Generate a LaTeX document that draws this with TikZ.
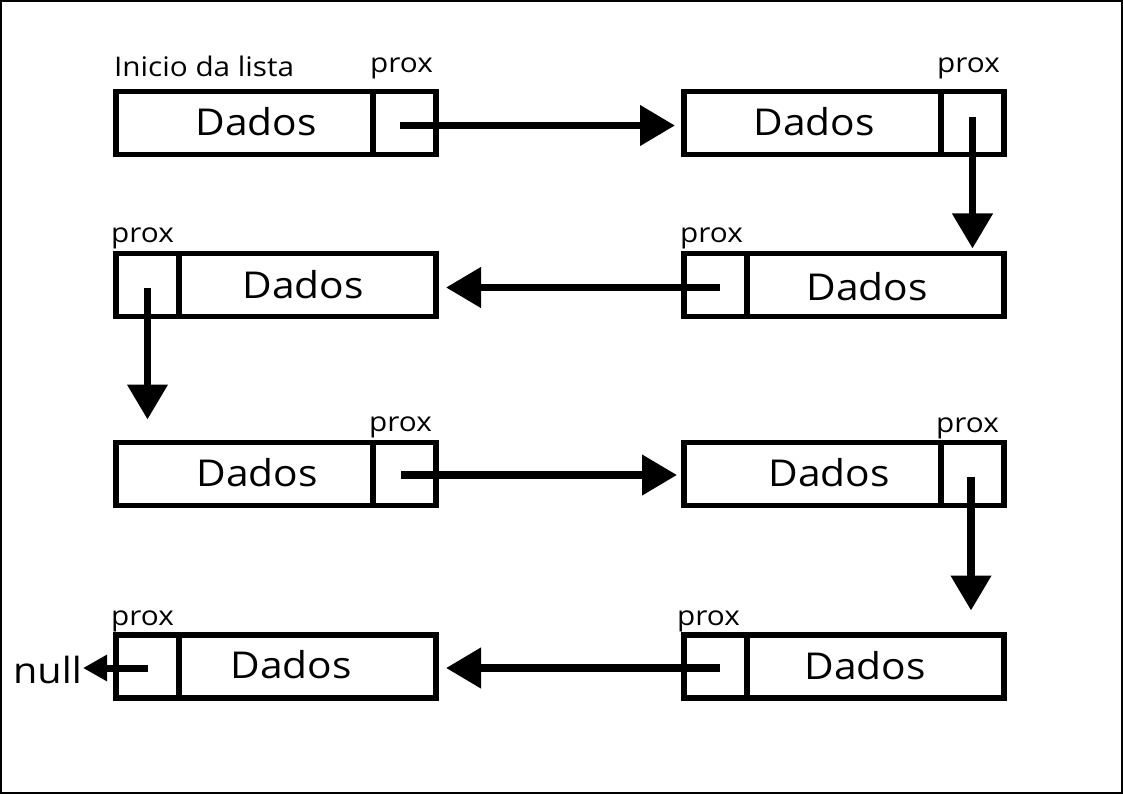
\documentclass[tikz,border=0pt]{standalone}
\usepackage{fontspec}
\setmainfont{Open Sans}
\newfontfamily\wfont[FakeStretch=1.1]{Open Sans}
\usetikzlibrary{arrows.meta}
\tikzset{
  cell/.style={draw, line width=5.5pt, minimum height=63pt, inner sep=0pt, outer sep=0pt},
  datacell/.style={cell, minimum width=257pt},
  ptrcell/.style={cell, minimum width=63pt},
  dados/.style={anchor=base, inner sep=0pt, font=\wfont\fontsize{37}{42}\selectfont},
  lbl/.style={anchor=base west, inner sep=0pt, font=\wfont\fontsize{27}{30}\selectfont},
  link/.style={line width=7.5pt, -{Triangle[length=35pt,width=39pt]}},
  nulllink/.style={line width=7pt, -{Triangle[length=24pt,width=25pt]}}
}
\begin{document}
\begin{tikzpicture}[x=1pt,y=-1pt]
\useasboundingbox (0,0) rectangle (1123,794);
\draw[line width=2pt] (1,1) rectangle (1122,793);
% row 1
\node[datacell, anchor=west] (d1) at (116,123) {};
\node[ptrcell, anchor=west] (p1) at (d1.east) {};
\node[datacell, anchor=west] (d2) at (684,123) {};
\node[ptrcell, anchor=west] (p2) at (d2.east) {};
% row 2
\node[ptrcell, anchor=west] (p3) at (116,285) {};
\node[datacell, anchor=west] (d3) at (p3.east) {};
\node[ptrcell, anchor=west] (p4) at (684,285) {};
\node[datacell, anchor=west] (d4) at (p4.east) {};
% row 3
\node[datacell, anchor=west] (d5) at (116,474) {};
\node[ptrcell, anchor=west] (p5) at (d5.east) {};
\node[datacell, anchor=west] (d6) at (684,474) {};
\node[ptrcell, anchor=west] (p6) at (d6.east) {};
% row 4
\node[ptrcell, anchor=west] (p7) at (116,666.5) {};
\node[datacell, anchor=west] (d7) at (p7.east) {};
\node[ptrcell, anchor=west] (p8) at (684,666.5) {};
\node[datacell, anchor=west] (d8) at (p8.east) {};
% texts
\node[dados] (t1) at (256,136) {Dados};
\node[dados] (t2) at (814,136) {Dados};
\node[dados] (t3) at (303,298) {Dados};
\node[dados] (t4) at (867,300) {Dados};
\node[dados] (t5) at (257,486) {Dados};
\node[dados] (t6) at (829,486) {Dados};
\node[dados] (t7) at (291,678) {Dados};
\node[dados] (t8) at (865,679) {Dados};
\node[lbl] (ini) at (114,77) {Inicio da lista};
\node[lbl] (x1) at (370,73) {prox};
\node[lbl] (x2) at (937,73) {prox};
\node[lbl] (x3) at (111,243) {prox};
\node[lbl] (x4) at (680,242) {prox};
\node[lbl] (x5) at (369,431) {prox};
\node[lbl] (x6) at (936,432) {prox};
\node[lbl] (x7) at (111,625) {prox};
\node[lbl] (x8) at (677,625) {prox};
\node[anchor=base east, inner sep=0pt, font=\wfont\fontsize{36}{40}\selectfont] (null) at (82,683) {null};
% links
\draw[link, shorten >=9pt] ([xshift=-4.5pt,yshift=-2.5pt]p1.center) -- ([yshift=-2.5pt]d2.west);
\draw[link, shorten >=5pt] ([yshift=6pt]p2.center) -- (p2.center |- d4.north);
\draw[link, shorten >=10pt] ([xshift=4.5pt,yshift=-2.5pt]p4.center) -- ([yshift=-2.5pt]d3.east);
\draw[link, shorten >=23pt] ([yshift=-3pt]p3.center) -- (p3.center |- d5.north);
\draw[link, shorten >=7pt] ([xshift=-3.5pt,yshift=-1pt]p5.center) -- ([yshift=-1pt]d6.west);
\draw[link, shorten >=24.5pt] ([xshift=-1.5pt,yshift=-3pt]p6.center) -- ([xshift=-1.5pt]p6.center |- d8.north);
\draw[link, shorten >=10pt] ([xshift=4.5pt,yshift=-1.5pt]p8.center) -- ([yshift=-1.5pt]d7.east);
\draw[nulllink, shorten >=1pt] ([yshift=-1.5pt]p7.center) -- ([yshift=-1.5pt]p7.center -| null.east);
\end{tikzpicture}
\end{document}
